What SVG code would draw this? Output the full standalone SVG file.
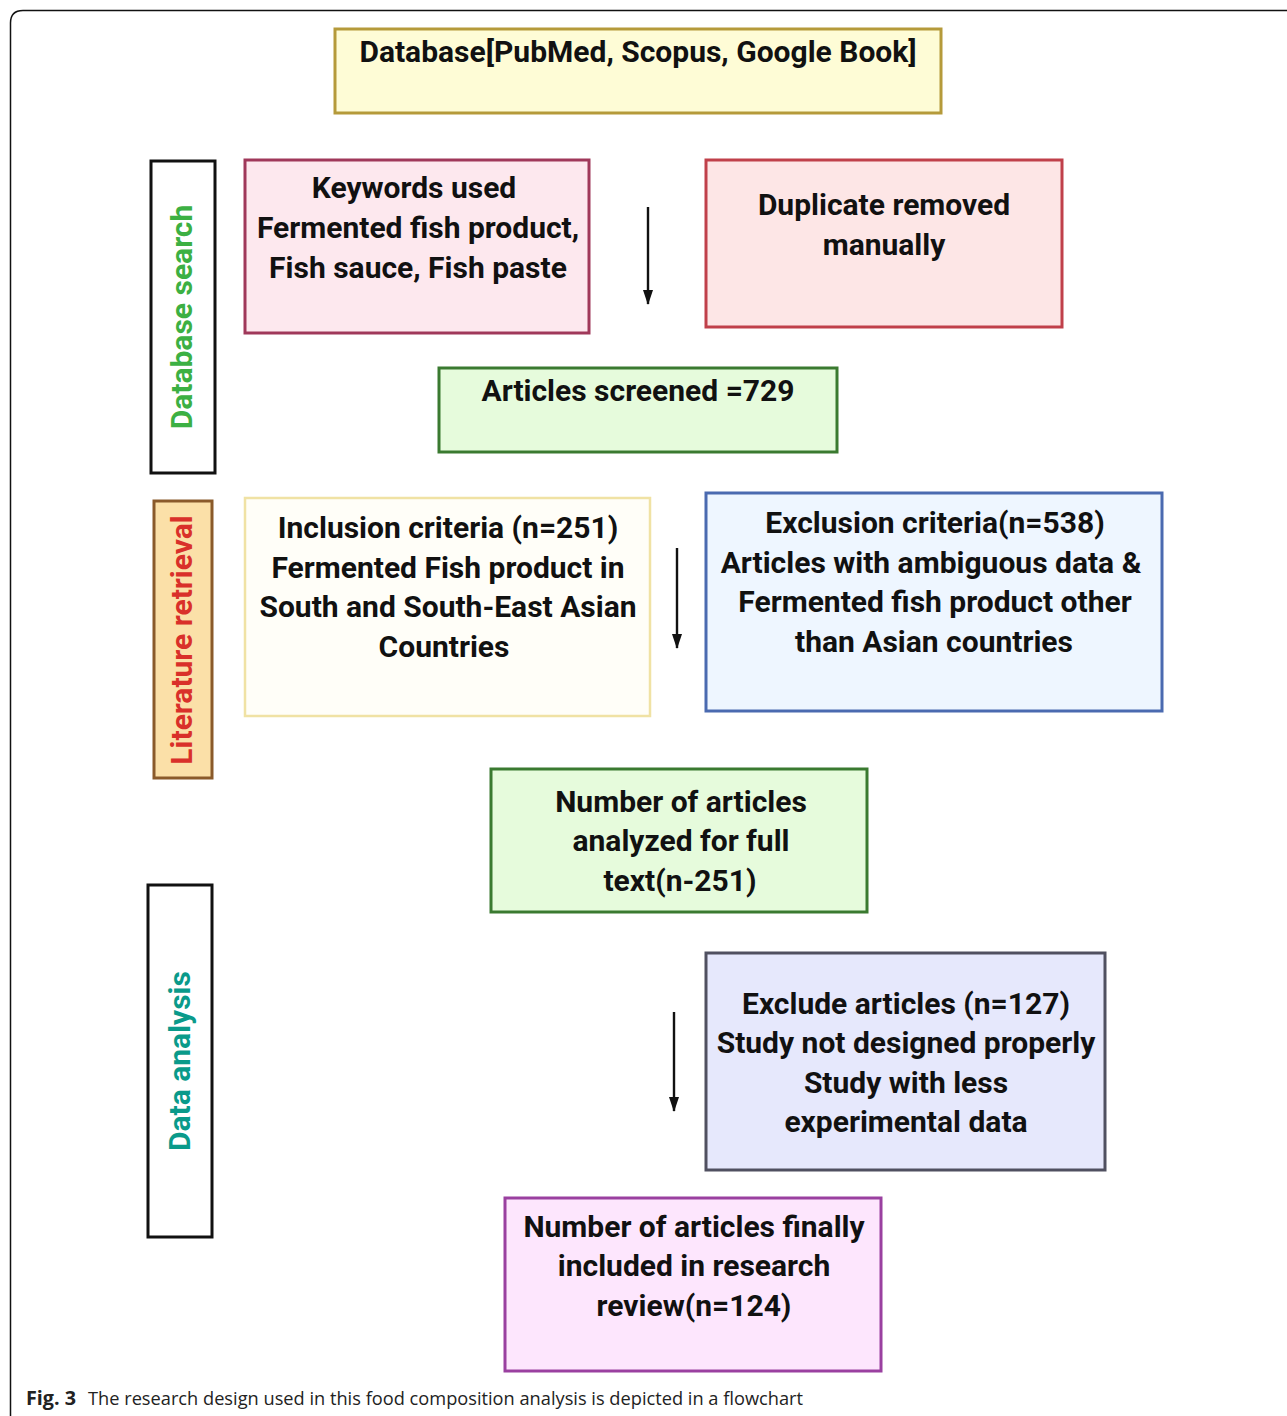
<svg xmlns="http://www.w3.org/2000/svg" width="1287" height="1416" viewBox="0 0 1287 1416">
<defs>
<style>
.t{font-family:Roboto,"Liberation Sans",sans-serif;font-weight:700;font-size:30px;fill:#111;text-anchor:middle}
.side{font-family:Roboto,"Liberation Sans",sans-serif;font-weight:700;font-size:30px;text-anchor:middle}
.box{stroke-width:3}
.conn{stroke:#111;stroke-width:2.4;fill:none}
.cap{font-family:"Open Sans","Noto Sans",sans-serif;font-size:19px;fill:#222}
</style>
<marker id="ah" viewBox="0 0 10 15" refX="5" refY="14" markerWidth="10" markerHeight="15" orient="0" markerUnits="userSpaceOnUse">
<path d="M0,0 L10,0 L5,15 z" fill="#111"/>
</marker>
</defs>
<rect width="1287" height="1416" fill="#fff"/>
<path d="M10.5,1416 V23 Q10.5,10.5 23,10.5 H1287" fill="none" stroke="#111" stroke-width="1.5"/>

<g id="db">
<rect class="box" x="335" y="29" width="606" height="84" fill="#fefcd6" stroke="#b59a3a"/>
<text class="t" x="638" y="62">Database[PubMed, Scopus, Google Book]</text>
</g>

<g id="side-search">
<rect x="151" y="161" width="64" height="312" fill="#fff" stroke="#111" stroke-width="3"/>
<text class="side" transform="translate(192,317) rotate(-90)" fill="#3cb043">Database search</text>
</g>

<g id="keywords">
<rect class="box" x="245" y="160" width="344" height="173" fill="#fde8ee" stroke="#a0385a"/>
<text class="t" x="414" y="198">Keywords used</text>
<text class="t" x="418" y="238">Fermented fish product,</text>
<text class="t" x="418" y="278">Fish sauce, Fish paste</text>
</g>

<g id="duplicate">
<rect class="box" x="706" y="160" width="356" height="167" fill="#fde6e6" stroke="#c0404a"/>
<text class="t" x="884" y="215">Duplicate removed</text>
<text class="t" x="884" y="255">manually</text>
</g>

<g id="screened">
<rect class="box" x="439" y="368" width="398" height="84" fill="#e6fbdc" stroke="#3a7a30"/>
<text class="t" x="638" y="401">Articles screened =729</text>
</g>

<g id="side-lit">
<rect x="154" y="501" width="58" height="277" fill="#fbe0a8" stroke="#8a5a2a" stroke-width="3"/>
<text class="side" transform="translate(192,640) rotate(-90)" fill="#d9302a">Literature retrieval</text>
</g>

<g id="inclusion">
<rect x="245" y="498" width="405" height="218" fill="#fffef8" stroke="#f0e2a4" stroke-width="2.5"/>
<text class="t" x="448" y="538">Inclusion criteria (n=251)</text>
<text class="t" x="448" y="578">Fermented Fish product in</text>
<text class="t" x="448" y="617">South and South-East Asian</text>
<text class="t" x="444" y="657">Countries</text>
</g>

<g id="exclusion">
<rect class="box" x="706" y="493" width="456" height="218" fill="#eef6ff" stroke="#4a6ab0"/>
<text class="t" x="935" y="533">Exclusion criteria(n=538)</text>
<text class="t" x="931" y="573">Articles with ambiguous data &amp;</text>
<text class="t" x="935" y="612">Fermented fish product other</text>
<text class="t" x="934" y="652">than Asian countries</text>
</g>

<g id="analyzed">
<rect class="box" x="491" y="769" width="376" height="143" fill="#e6fbdc" stroke="#3a7a30"/>
<text class="t" x="681" y="812">Number of articles</text>
<text class="t" x="681" y="851">analyzed for full</text>
<text class="t" x="680" y="891">text(n-251)</text>
</g>

<g id="side-data">
<rect x="148" y="885" width="64" height="352" fill="#fff" stroke="#111" stroke-width="3"/>
<text class="side" transform="translate(190,1061) rotate(-90)" fill="#0a9a8a">Data analysis</text>
</g>

<g id="exclude">
<rect class="box" x="706" y="953" width="399" height="217" fill="#e6e8fc" stroke="#505060"/>
<text class="t" x="906" y="1014">Exclude articles (n=127)</text>
<text class="t" x="906" y="1053">Study not designed properly</text>
<text class="t" x="906" y="1093">Study with less</text>
<text class="t" x="906" y="1132">experimental data</text>
</g>

<g id="final">
<rect class="box" x="505" y="1198" width="376" height="173" fill="#fde6fd" stroke="#9a40a0"/>
<text class="t" x="694" y="1237">Number of articles finally</text>
<text class="t" x="694" y="1276">included in research</text>
<text class="t" x="694" y="1316">review(n=124)</text>
</g>

<g id="connectors">
<line class="conn" x1="648" y1="207" x2="648" y2="304" marker-end="url(#ah)"/>
<line class="conn" x1="677" y1="548" x2="677" y2="648" marker-end="url(#ah)"/>
<line class="conn" x1="674" y1="1012" x2="674" y2="1111" marker-end="url(#ah)"/>
</g>

<g id="caption">
<text class="cap" x="26" y="1405" font-weight="700" textLength="50" lengthAdjust="spacingAndGlyphs">Fig. 3</text>
<text class="cap" x="88" y="1405" textLength="715" lengthAdjust="spacingAndGlyphs">The research design used in this food composition analysis is depicted in a flowchart</text>
</g>
</svg>
